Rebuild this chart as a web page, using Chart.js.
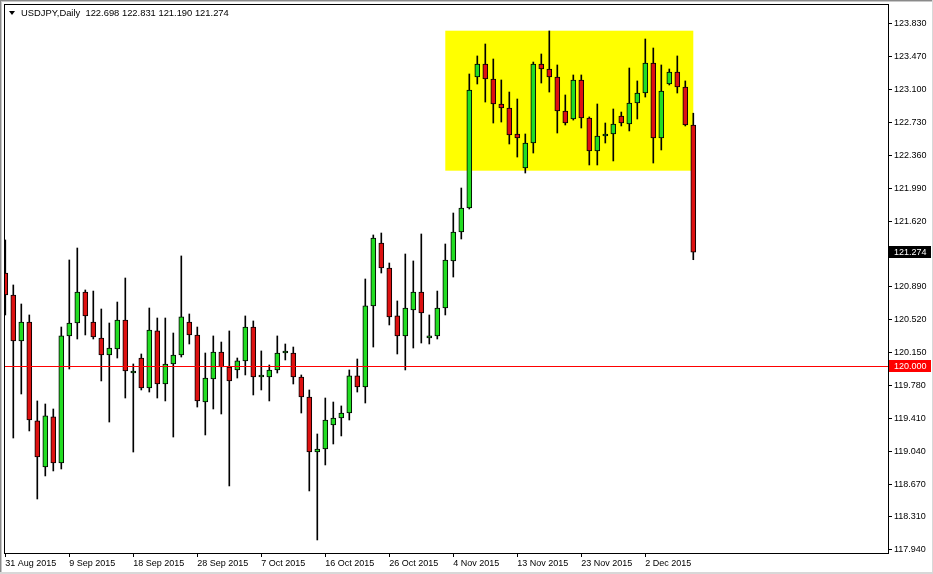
<!DOCTYPE html>
<html>
<head>
<meta charset="utf-8">
<script src="https://cdn.jsdelivr.net/npm/chart.js@4.4.1/dist/chart.umd.min.js"></script>
<style>
  html, body { margin: 0; padding: 0; background: #fff; }
  #wrap { width: 933px; height: 574px; }
</style>
</head>
<body>
<div id="wrap"><canvas id="chart" width="933" height="574"></canvas></div>
<script>
const symbolName = "USDJPY,Daily";

// daily bars from 31 Aug 2015 (broker feed, Sunday bars included)
const opens = [
  121.041, 120.795, 120.280, 120.492, 119.384, 118.868, 119.429, 118.913, 120.336, 120.481,
  120.828, 120.492, 120.313, 120.123, 120.190, 120.515, 119.921, 120.089, 119.753, 120.392,
  119.798, 120.022, 120.123, 120.492, 120.347, 119.597, 119.854, 120.156, 119.988, 119.955,
  120.056, 120.436, 119.876, 119.876, 119.955, 120.145, 120.145, 119.876, 119.652, 119.036,
  119.070, 119.339, 119.417, 119.473, 119.888, 119.764, 120.672, 121.377, 121.097, 120.560,
  120.336, 120.627, 120.828, 120.313, 120.336, 120.649, 121.176, 121.500, 121.769, 123.236,
  123.382, 123.214, 122.934, 122.889, 122.598, 122.217, 122.497, 123.382, 123.326, 123.236,
  122.856, 122.766, 123.203, 122.777, 122.408, 122.576, 122.598, 122.800, 122.710, 122.945,
  123.057, 123.393, 122.553, 123.158, 123.292, 123.124, 122.698
];
const highs = [
  121.411, 120.907, 120.694, 120.571, 119.608, 119.574, 119.518, 120.436, 121.187, 121.321,
  120.851, 120.839, 120.638, 120.481, 120.716, 120.985, 120.022, 120.134, 120.649, 120.537,
  120.537, 120.369, 121.232, 120.582, 120.436, 120.145, 120.336, 120.268, 120.392, 120.089,
  120.560, 120.504, 120.168, 120.011, 120.336, 120.246, 120.212, 119.899, 119.731, 119.238,
  119.641, 119.596, 119.552, 119.955, 120.078, 120.974, 121.467, 121.489, 121.153, 120.728,
  121.254, 121.176, 121.478, 120.571, 120.839, 121.366, 121.713, 121.993, 123.270, 123.472,
  123.606, 123.438, 123.203, 123.068, 122.990, 122.598, 123.404, 123.494, 123.752, 123.371,
  123.035, 123.259, 123.259, 122.789, 122.934, 122.721, 122.878, 122.844, 123.337, 123.192,
  123.662, 123.561, 123.371, 123.326, 123.472, 123.192, 122.831
];
const lows = [
  120.571, 119.193, 119.686, 119.272, 118.510, 118.768, 118.824, 118.846, 119.966, 120.302,
  120.347, 120.302, 119.832, 119.372, 120.089, 119.641, 119.036, 119.731, 119.708, 119.641,
  119.608, 119.204, 120.100, 120.246, 119.540, 119.227, 119.518, 119.462, 118.656, 119.865,
  119.899, 119.675, 119.731, 119.608, 119.921, 120.067, 119.798, 119.473, 118.600, 118.051,
  118.891, 119.126, 119.216, 119.395, 119.708, 119.585, 120.212, 121.041, 120.459, 120.134,
  119.955, 120.201, 120.257, 120.246, 120.302, 120.571, 120.996, 121.422, 121.758, 123.158,
  122.956, 122.721, 122.732, 122.486, 122.340, 122.161, 122.385, 123.169, 123.068, 122.609,
  122.699, 122.754, 122.665, 122.251, 122.251, 122.497, 122.296, 122.688, 122.632, 122.766,
  123.012, 122.273, 122.419, 123.147, 123.057, 122.688, 121.190
];
const closes = [
  120.795, 120.280, 120.492, 119.395, 118.980, 119.440, 118.913, 120.336, 120.481, 120.828,
  120.560, 120.325, 120.123, 120.201, 120.515, 119.944, 119.933, 119.753, 120.403, 119.798,
  120.022, 120.123, 120.549, 120.347, 119.608, 119.865, 120.156, 119.988, 119.832, 120.056,
  120.436, 119.876, 119.882, 119.955, 120.145, 120.156, 119.876, 119.652, 119.036, 119.070,
  119.395, 119.417, 119.473, 119.888, 119.764, 120.672, 121.433, 121.097, 120.549, 120.336,
  120.649, 120.828, 120.593, 120.336, 120.649, 121.187, 121.500, 121.769, 123.091, 123.382,
  123.214, 122.934, 122.889, 122.587, 122.553, 122.497, 123.382, 123.326, 123.236, 122.856,
  122.721, 123.203, 122.777, 122.408, 122.576, 122.598, 122.710, 122.721, 122.945, 123.057,
  123.393, 122.553, 123.080, 123.292, 123.124, 122.699, 121.274
];

// x axis labels sit on every 8th bar
const dateTickBars = [0, 8, 16, 24, 32, 40, 48, 56, 64, 72, 80];
const dateTickLabels = [
  "31 Aug 2015", "9 Sep 2015", "18 Sep 2015", "28 Sep 2015", "7 Oct 2015", "16 Oct 2015",
  "26 Oct 2015", "4 Nov 2015", "13 Nov 2015", "23 Nov 2015", "2 Dec 2015"
];
const priceTicks = [
  117.940, 118.310, 118.670, 119.040, 119.410, 119.780, 120.150, 120.520, 120.890,
  121.260, 121.620, 121.990, 122.360, 122.730, 123.100, 123.470, 123.830
];

// horizontal line and the yellow range box
const levelLine = 120.000;
const zoneFromBar = 55;
const zoneToBar = 86;
const zoneTop = 123.755;
const zoneBottom = 122.187;

const FONT = { family: "Liberation Sans, Arial, sans-serif", size: 9 };
const fontStr = "9px 'Liberation Sans', Arial, sans-serif";
const headFont = "9.4px 'Liberation Sans', Arial, sans-serif";

const bars = closes.map((_, i) => i);
const wickData = bars.map(i => ({ x: i, y: [lows[i], highs[i]] }));
const bodyData = bars.map(i => ({ x: i, y: [Math.min(opens[i], closes[i]), Math.max(opens[i], closes[i])] }));
const bodyColors = bars.map(i => closes[i] >= opens[i] ? "#22dd22" : "#dd1111");

// yellow rectangle behind candles
const zonePlugin = {
  id: "zone",
  beforeDatasetsDraw(chart) {
    const { ctx, scales: { x, y } } = chart;
    const x1 = x.getPixelForValue(zoneFromBar);
    const x2 = x.getPixelForValue(zoneToBar);
    const y1 = y.getPixelForValue(zoneTop);
    const y2 = y.getPixelForValue(zoneBottom);
    ctx.save();
    ctx.fillStyle = "#ffff00";
    ctx.fillRect(x1, y1, x2 - x1, y2 - y1);
    ctx.restore();
  }
};

// red level line, plot frame
const overlayPlugin = {
  id: "overlay",
  beforeDraw(chart) {
    const ctx = chart.ctx;
    ctx.save();
    ctx.fillStyle = "#fff";
    ctx.fillRect(0, 0, chart.width, chart.height);
    ctx.restore();
  },
  afterDatasetsDraw(chart) {
    const { ctx, chartArea: a, scales: { y } } = chart;
    const ly = Math.round(y.getPixelForValue(levelLine)) + 0.5;
    ctx.save();
    ctx.strokeStyle = "#ff0000";
    ctx.lineWidth = 1;
    ctx.beginPath();
    ctx.moveTo(a.left, ly);
    ctx.lineTo(a.right, ly);
    ctx.stroke();
    ctx.strokeStyle = "#000";
    ctx.strokeRect(a.left + 0.5, a.top + 0.5, a.right - a.left, a.bottom - a.top);
    ctx.restore();
  },
  afterDraw(chart) {
    const { ctx, chartArea: a, scales: { y } } = chart;
    const last = closes.length - 1;
    ctx.save();
    ctx.font = fontStr;
    ctx.textBaseline = "middle";

    // price tags on the axis
    const tag = (val, bg) => {
      const py = Math.round(y.getPixelForValue(val));
      ctx.fillStyle = bg;
      ctx.fillRect(a.right + 1, py - 6, 42, 12);
      ctx.fillStyle = "#fff";
      ctx.textAlign = "left";
      ctx.fillText(val.toFixed(3), a.right + 6, py + 0.5);
    };
    tag(closes[last], "#000");
    tag(levelLine, "#ff0000");

    // header
    ctx.fillStyle = "#000";
    ctx.beginPath();
    ctx.moveTo(9, 11);
    ctx.lineTo(15, 11);
    ctx.lineTo(12, 15);
    ctx.closePath();
    ctx.fill();
    ctx.font = headFont;
    const head = symbolName + "  " + [opens[last], highs[last], lows[last], closes[last]].map(v => v.toFixed(3)).join(" ");
    ctx.fillText(head, 21, 13.5);

    // window edge
    ctx.fillStyle = "#8a8a8a";
    ctx.fillRect(0, 0, chart.width, 1);
    ctx.fillRect(0, 0, 1, chart.height);
    ctx.fillStyle = "#c8c8c8";
    ctx.fillRect(1, 1, chart.width, 1);
    ctx.fillRect(1, 1, 1, chart.height);
    ctx.fillStyle = "#d8d8d8";
    ctx.fillRect(chart.width - 1, 0, 1, chart.height);
    ctx.fillRect(0, chart.height - 2, chart.width, 2);
    ctx.restore();
  }
};

const ctx = document.getElementById("chart").getContext("2d");

const chart = new Chart(ctx, {
  type: "bar",
  data: {
    datasets: [
      {
        data: bodyData,
        backgroundColor: bodyColors,
        borderColor: "#000",
        borderWidth: 1,
        borderSkipped: false,
        barThickness: 5,
        minBarLength: 2,
        grouped: false,
        order: 1
      },
      {
        data: wickData,
        backgroundColor: "#000",
        borderWidth: 0,
        barThickness: 1,
        grouped: false,
        order: 2
      }
    ]
  },
  options: {
    responsive: false,
    animation: false,
    events: [],
    layout: { padding: { left: 4, top: 4, right: 0, bottom: 0 } },
    plugins: { legend: { display: false }, tooltip: { enabled: false } },
    scales: {
      x: {
        type: "linear",
        offset: false,
        min: -0.1625,
        max: 110.3375,
        afterBuildTicks: s => { s.ticks = dateTickBars.map(v => ({ value: v })); },
        afterFit: s => { s.height = 21; s.paddingLeft = 0; s.paddingRight = 0; },
        ticks: {
          autoSkip: false,
          maxRotation: 0,
          align: "start",
          padding: 1,
          color: "#000",
          font: FONT,
          callback: v => dateTickLabels[dateTickBars.indexOf(v)] || ""
        },
        grid: { display: true, offset: false, drawOnChartArea: false, drawTicks: true, tickLength: 4, color: "#000" },
        border: { display: false }
      },
      y: {
        position: "right",
        min: 117.905,
        max: 124.054,
        afterBuildTicks: s => { s.ticks = priceTicks.map(v => ({ value: v })); },
        afterFit: s => { s.width = 45; s.paddingTop = 0; s.paddingBottom = 0; },
        ticks: {
          autoSkip: false,
          padding: 2,
          color: "#000",
          font: FONT,
          callback: v => v.toFixed(3)
        },
        grid: { display: true, drawOnChartArea: false, drawTicks: true, tickLength: 4, color: "#000" },
        border: { display: false }
      }
    }
  },
  plugins: [zonePlugin, overlayPlugin]
});
</script>
</body>
</html>
